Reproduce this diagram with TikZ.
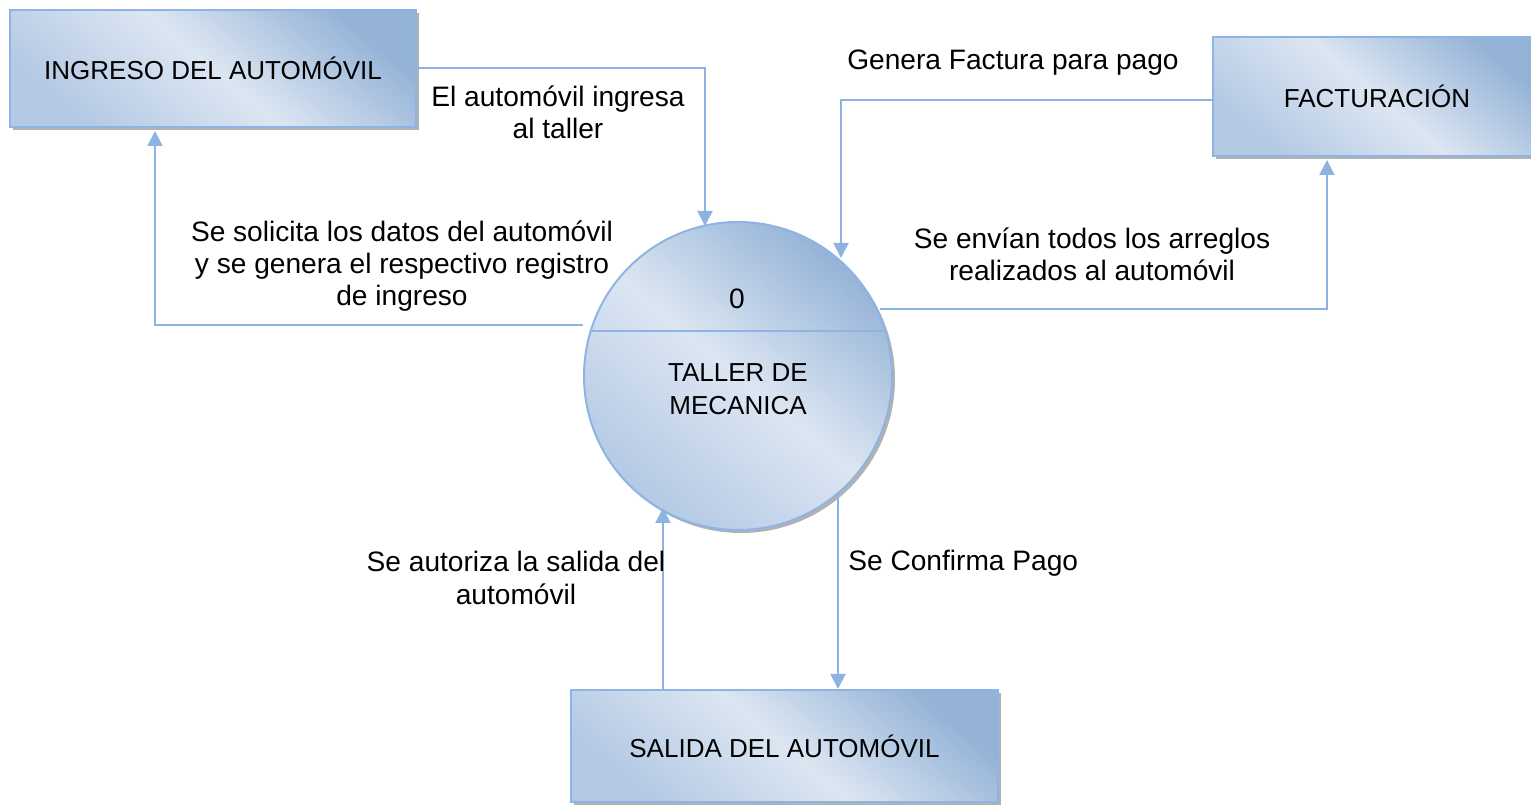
\documentclass[tikz,border=0pt]{standalone}
\usepackage{fontspec}
\setmainfont{Liberation Sans}
\usetikzlibrary{arrows.meta,shadows}

\definecolor{claro}{HTML}{DCE6F2}
\definecolor{oscuro}{HTML}{95B3D7}
\definecolor{medio}{HTML}{B4C9E4}
\definecolor{borde}{HTML}{8EB4E3}
\definecolor{flecha}{HTML}{8DB3E2}

\tikzset{
  >={Triangle[width=0.3cm,length=0.3cm]},
  caja/.style={shape=rectangle, draw=borde, line width=0.04cm,
    top color=oscuro, bottom color=medio, middle color=claro, shading angle=-40,
    drop shadow={shadow xshift=0.06cm, shadow yshift=-0.06cm, fill=gray!60, opacity=1},
    font=\fontsize{14.8}{17}\selectfont},
  proceso/.style={shape=circle, draw=borde, line width=0.04cm,
    top color=oscuro, bottom color=medio, middle color=claro, shading angle=-40,
    drop shadow={shadow xshift=0.06cm, shadow yshift=-0.06cm, fill=gray!60, opacity=1}},
  flujo/.style={->, draw=flecha, line width=0.04cm},
  etiqueta/.style={align=center, inner sep=0pt, font=\fontsize{16}{18.4}\selectfont}
}

\begin{document}
\begin{tikzpicture}
\useasboundingbox (0,0) rectangle (30.62,-16.12);
\clip (0,0) rectangle (30.62,-16.12);

\node[caja, minimum width=8.12cm, minimum height=2.34cm](ingreso) at (4.26,-1.37) {INGRESO DEL AUTOMÓVIL};
\node[caja, minimum width=6.56cm, minimum height=2.38cm](factura) at (27.54,-1.93) {FACTURACIÓN};
\node[caja, minimum width=8.54cm, minimum height=2.24cm](salida) at (15.69,-14.92) {SALIDA DEL AUTOMÓVIL};

\node[proceso, minimum size=6.16cm](taller) at (14.76,-7.52) {};
\draw[borde, line width=0.04cm] (taller.163.5) -- (taller.163.5 -| taller.16.5);
\node[font=\fontsize{16}{18}\selectfont](cero) at (14.74,-5.98) {0};
\node[align=center, font=\fontsize{14.8}{18.7}\selectfont](nombre) at (14.76,-7.78) {TALLER DE\\MECANICA};

% extremos de los flujos
\coordinate (p1) at (14.1,-4.52);
\coordinate (p2) at (11.66,-6.5);
\coordinate (p3) at (16.82,-5.16);
\coordinate (p4) at (17.6,-6.18);
\coordinate (p5) at (13.26,-10.16);
\coordinate (p6) at (16.76,-9.84);

\draw[flujo] (ingreso.east) -| (p1);
\draw[flujo] (p2) -| ([xshift=-1.16cm,yshift=-0.06cm]ingreso.south);
\draw[flujo] ([yshift=-0.07cm]factura.west) -| (p3);
\draw[flujo] (p4) -| ([xshift=-1cm,yshift=-0.06cm]factura.south);
\draw[flujo] (salida.north -| p5) -- (p5);
\draw[flujo] (p6) -- (p6 |- salida.north);

\node[etiqueta](l1) at (11.16,-2.24) {El automóvil ingresa\\al taller};
\node[etiqueta](l2) at (8.04,-5.32) {Se solicita los datos del automóvil\\y se genera el respectivo registro\\de ingreso};
\node[etiqueta](l3) at (20.26,-1.26) {Genera Factura para pago};
\node[etiqueta](l4) at (21.84,-5.08) {Se envían todos los arreglos\\realizados al automóvil};
\node[etiqueta](l5) at (10.32,-11.56) {Se autoriza la salida del\\automóvil};
\node[etiqueta, anchor=west](l6) at (16.96,-11.26) {Se Confirma Pago};
\end{tikzpicture}
\end{document}
